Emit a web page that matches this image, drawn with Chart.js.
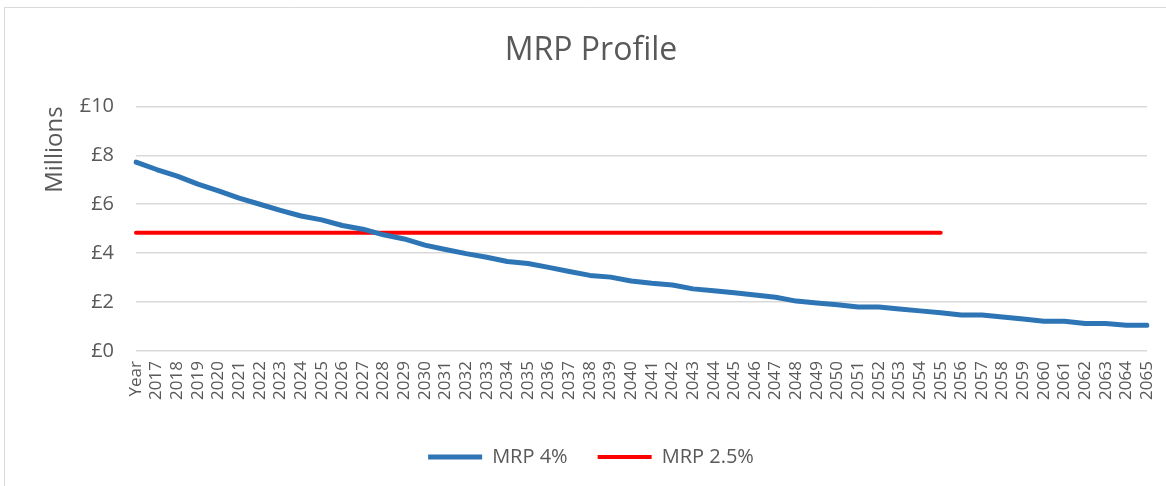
<!DOCTYPE html>
<html>
<head>
<meta charset="utf-8">
<script src="https://cdn.jsdelivr.net/npm/chart.js@4/dist/chart.umd.min.js"></script>
<style>
  html, body { margin: 0; padding: 0; background: #fff; }
  #wrap { width: 1166px; height: 486px; }
</style>
</head>
<body>
<div id="wrap"><canvas id="graficoMRP" width="1166" height="486"></canvas></div>
<script>
// categorias del eje x
const years = ['Year', '2017', '2018', '2019', '2020', '2021', '2022', '2023', '2024', '2025',
  '2026', '2027', '2028', '2029', '2030', '2031', '2032', '2033', '2034', '2035',
  '2036', '2037', '2038', '2039', '2040', '2041', '2042', '2043', '2044', '2045',
  '2046', '2047', '2048', '2049', '2050', '2051', '2052', '2053', '2054', '2055',
  '2056', '2057', '2058', '2059', '2060', '2061', '2062', '2063', '2064', '2065'];

// valores en millones de libras
const mrp4 = [7.72, 7.42, 7.15, 6.82, 6.55, 6.25, 6.00, 5.75, 5.52, 5.36,
  5.13, 4.98, 4.75, 4.58, 4.33, 4.15, 3.98, 3.83, 3.66, 3.58,
  3.42, 3.25, 3.09, 3.02, 2.86, 2.77, 2.70, 2.54, 2.46, 2.38,
  2.29, 2.20, 2.04, 1.96, 1.89, 1.80, 1.80, 1.72, 1.64, 1.56,
  1.47, 1.47, 1.39, 1.31, 1.22, 1.22, 1.12, 1.12, 1.05, 1.05];

const mrp25 = [4.83, 4.83, 4.83, 4.83, 4.83, 4.83, 4.83, 4.83, 4.83, 4.83,
  4.83, 4.83, 4.83, 4.83, 4.83, 4.83, 4.83, 4.83, 4.83, 4.83,
  4.83, 4.83, 4.83, 4.83, 4.83, 4.83, 4.83, 4.83, 4.83, 4.83,
  4.83, 4.83, 4.83, 4.83, 4.83, 4.83, 4.83, 4.83, 4.83, 4.83,
  null, null, null, null, null, null, null, null, null, null];

const yTicks = [0, 2, 4, 6, 8, 10];

const textColor = '#595959';
const gridColor = '#d9d9d9';

// borde del area del grafico (estilo Excel)
const chartBorder = {
  id: 'chartBorder',
  beforeDraw(chart) {
    const ctx = chart.ctx;
    ctx.save();
    ctx.strokeStyle = gridColor;
    ctx.lineWidth = 1;
    ctx.beginPath();
    ctx.moveTo(4.5, 486);
    ctx.lineTo(4.5, 7.5);
    ctx.lineTo(1166, 7.5);
    ctx.stroke();
    ctx.restore();
  }
};

document.addEventListener('DOMContentLoaded', function () {
  const ctx = document.getElementById('graficoMRP').getContext('2d');
  new Chart(ctx, {
    type: 'line',
    data: {
      labels: years,
      datasets: [
        {
          label: 'MRP 4%',
          data: mrp4,
          borderColor: '#2e75b6',
          backgroundColor: '#2e75b6',
          borderWidth: 5,
          borderCapStyle: 'round',
          borderJoinStyle: 'round',
          pointRadius: 0,
          tension: 0,
          fill: false
        },
        {
          label: 'MRP 2.5%',
          data: mrp25,
          borderColor: '#ff0000',
          backgroundColor: '#ff0000',
          borderWidth: 4,
          borderCapStyle: 'round',
          pointRadius: 0,
          tension: 0,
          fill: false
        }
      ]
    },
    options: {
      responsive: false,
      animation: false,
      layout: { padding: { left: 35, right: 19, top: 0, bottom: 9 } },
      plugins: {
        title: {
          display: true,
          text: 'MRP Profile',
          color: textColor,
          font: { family: 'Open Sans', size: 32, weight: 'normal' },
          padding: { top: 32, bottom: 36 }
        },
        legend: {
          position: 'bottom',
          labels: {
            color: textColor,
            font: { family: 'Open Sans', size: 20 },
            usePointStyle: true,
            pointStyle: 'line',
            pointStyleWidth: 54,
            padding: 30
          }
        },
        tooltip: { enabled: false }
      },
      scales: {
        x: {
          offset: false,
          grid: { display: false, drawTicks: false },
          border: { display: false },
          ticks: {
            color: textColor,
            font: { family: 'Open Sans', size: 17 },
            autoSkip: false,
            maxRotation: 90,
            minRotation: 90,
            padding: 10
          },
          afterFit(scale) {
            scale.height = 66;
            scale.paddingLeft = 0;
            scale.paddingRight = 0;
          }
        },
        y: {
          min: 0,
          max: 10,
          afterBuildTicks(scale) { scale.ticks = yTicks.map(v => ({ value: v })); },
          grid: { color: gridColor, lineWidth: 1.5, drawTicks: false },
          border: { display: false },
          ticks: {
            color: textColor,
            font: { family: 'Open Sans', size: 20 },
            padding: 22,
            callback: v => '£' + v
          },
          title: {
            display: true,
            text: 'Millions',
            align: 'end',
            color: textColor,
            font: { family: 'Open Sans', size: 24 },
            padding: { top: 6, bottom: 0 }
          },
          afterFit(scale) { scale.width = 101; }
        }
      }
    },
    plugins: [chartBorder]
  });
});
</script>
</body>
</html>
